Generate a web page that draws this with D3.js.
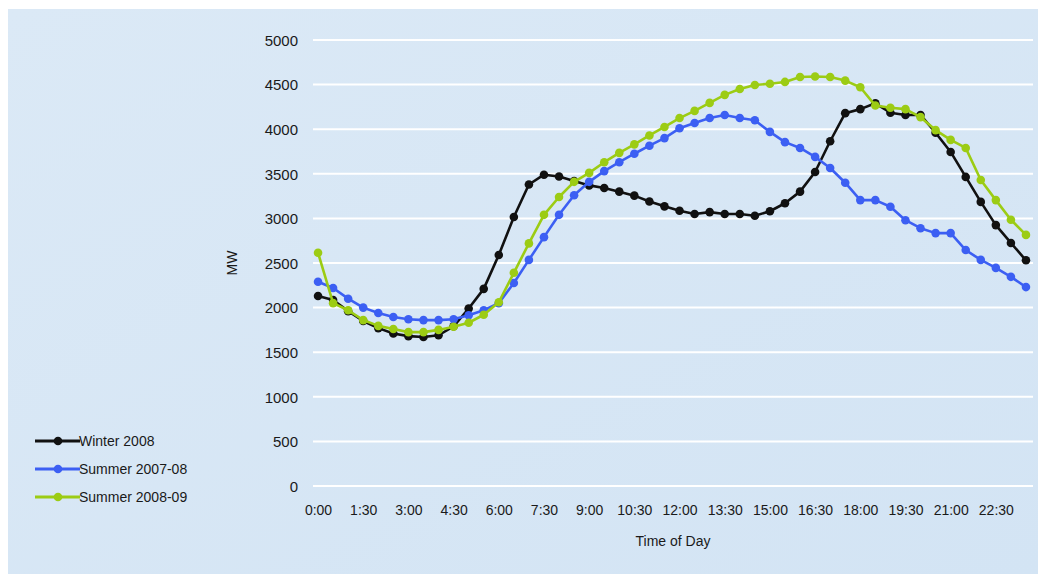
<!DOCTYPE html>
<html>
<head>
<meta charset="utf-8">
<script src="https://cdn.jsdelivr.net/npm/d3@7"></script>
<style>
  html, body { margin: 0; padding: 0; background: #ffffff; }
  svg { display: block; }
  text { font-family: "Liberation Sans", Arial, sans-serif; fill: #1a1a1a; }
</style>
</head>
<body>
<svg id="chart" width="1038" height="574"></svg>
<script>
// Half-hourly time slots 0:00 .. 23:30
const times = d3.range(48).map(i => `${Math.floor(i / 2)}:${i % 2 ? "30" : "00"}`);
const tickLabels = ["0:00","1:30","3:00","4:30","6:00","7:30","9:00","10:30","12:00",
                    "13:30","15:00","16:30","18:00","19:30","21:00","22:30"];
const yTicks = [0,500,1000,1500,2000,2500,3000,3500,4000,4500,5000];

// Average demand profiles (MW)
const winter2008 = [2130,2085,1960,1850,1770,1710,1680,1670,1690,1790,1990,2210,
                    2590,3015,3380,3490,3470,3420,3370,3340,3300,3255,3190,3135,
                    3085,3050,3070,3050,3050,3030,3080,3170,3300,3520,3865,4180,
                    4225,4290,4185,4160,4160,3960,3745,3465,3185,2925,2725,2530];
const summer0708 = [2290,2220,2100,2000,1940,1895,1870,1860,1860,1870,1915,1970,
                    2050,2275,2535,2790,3040,3260,3410,3530,3630,3725,3815,3900,
                    4010,4070,4125,4160,4125,4100,3970,3855,3790,3690,3565,3400,
                    3205,3205,3130,2980,2890,2835,2835,2645,2535,2445,2345,2230];
const summer0809 = [2615,2050,1970,1860,1795,1760,1725,1725,1750,1785,1830,1920,
                    2060,2390,2720,3040,3240,3410,3510,3630,3735,3830,3930,4025,
                    4125,4205,4295,4385,4450,4495,4510,4530,4585,4590,4585,4545,
                    4470,4265,4240,4225,4135,3990,3880,3790,3430,3205,2985,2815];

const seriesNames = ["Winter 2008", "Summer 2007-08", "Summer 2008-09"];
const seriesColors = ["#111111", "#3c5ff3", "#9ccc14"];
const seriesData = [winter2008, summer0708, summer0809];

const svg = d3.select("#chart");

// Panel background with a faint gradient
const defs = svg.append("defs");
const grad = defs.append("linearGradient").attr("id", "bg")
  .attr("x1", "0").attr("y1", "0").attr("x2", "1").attr("y2", "1");
grad.append("stop").attr("offset", "0").attr("stop-color", "#dbe9f6");
grad.append("stop").attr("offset", "1").attr("stop-color", "#d3e4f4");
svg.append("rect").attr("x", 8).attr("y", 9).attr("width", 1030).attr("height", 565)
  .attr("fill", "url(#bg)");

const plot = { left: 313, right: 1033, top: 40, bottom: 486 };

const x = d3.scalePoint().domain(times).range([310.5, 1033.5]).padding(0.5);
const y = d3.scaleLinear().domain([0, 5000]).range([plot.bottom, plot.top]);

// Horizontal gridlines
svg.append("g").selectAll("line").data(yTicks).join("line")
  .attr("x1", plot.left).attr("x2", plot.right)
  .attr("y1", d => y(d)).attr("y2", d => y(d))
  .attr("stroke", "#ffffff").attr("stroke-width", 2);

// Y axis labels
const yAxis = d3.axisLeft(y).tickValues(yTicks).tickFormat(d3.format("d"))
  .tickSize(0).tickPadding(0);
const gy = svg.append("g").attr("transform", "translate(298,0)").call(yAxis);
gy.select(".domain").remove();
gy.selectAll("text").attr("font-size", 15).attr("dy", "0.35em")
  .attr("font-family", "Liberation Sans, Arial, sans-serif").attr("fill", "#1a1a1a");

// X axis labels
const xAxis = d3.axisBottom(x).tickValues(tickLabels).tickSize(0).tickPadding(0);
const gx = svg.append("g").attr("transform", "translate(0,510)").call(xAxis);
gx.select(".domain").remove();
gx.selectAll("text").attr("font-size", 14).attr("dy", "0.35em")
  .attr("font-family", "Liberation Sans, Arial, sans-serif").attr("fill", "#1a1a1a");

// Axis titles
svg.append("text").attr("x", (plot.left + plot.right) / 2).attr("y", 541)
  .attr("dy", "0.35em").attr("text-anchor", "middle").attr("font-size", 14)
  .text("Time of Day");
svg.append("text")
  .attr("transform", `translate(232,${(plot.top + plot.bottom) / 2}) rotate(-90)`)
  .attr("dy", "0.35em").attr("text-anchor", "middle").attr("font-size", 14).text("MW");

// Series lines and markers
const line = d3.line().x((d, i) => x(times[i])).y(d => y(d));
seriesData.forEach((vals, k) => {
  const g = svg.append("g");
  g.append("path").datum(vals).attr("d", line)
    .attr("fill", "none").attr("stroke", seriesColors[k]).attr("stroke-width", 2.6)
    .attr("stroke-linejoin", "round");
  g.selectAll("circle").data(vals).join("circle")
    .attr("cx", (d, i) => x(times[i])).attr("cy", d => y(d)).attr("r", 4.3)
    .attr("fill", seriesColors[k]);
});

// Legend
const legend = svg.append("g");
seriesNames.forEach((name, k) => {
  const ly = 441 + k * 28;
  legend.append("line").attr("x1", 35).attr("x2", 80).attr("y1", ly).attr("y2", ly)
    .attr("stroke", seriesColors[k]).attr("stroke-width", 3);
  legend.append("circle").attr("cx", 58).attr("cy", ly).attr("r", 4.3)
    .attr("fill", seriesColors[k]);
  legend.append("text").attr("x", 79).attr("y", ly).attr("dy", "0.35em")
    .attr("font-size", 14).text(name);
});
</script>
</body>
</html>
